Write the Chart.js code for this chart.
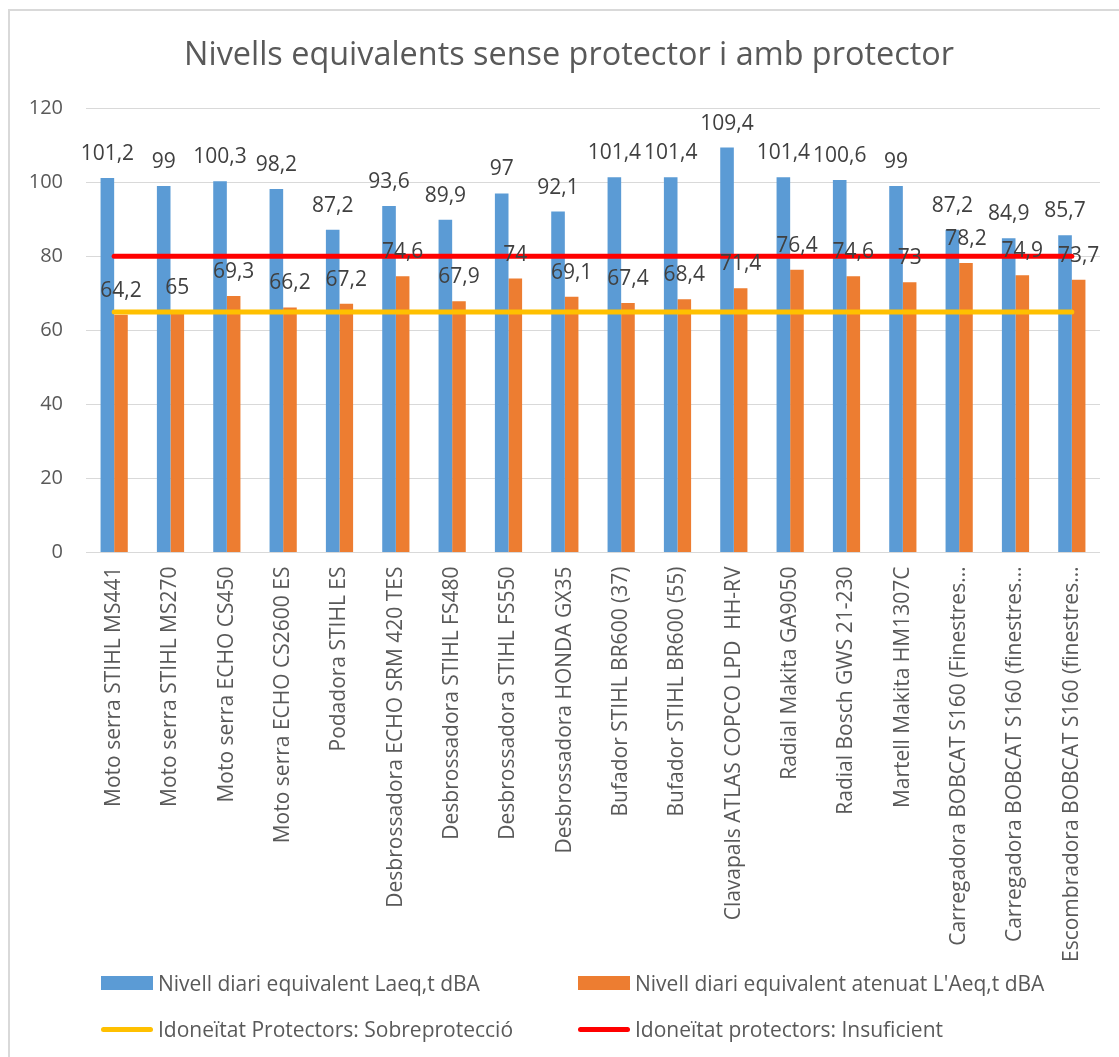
<!DOCTYPE html>
<html>
<head>
<meta charset="utf-8">
<script src="https://cdn.jsdelivr.net/npm/chart.js@4.4.1/dist/chart.umd.min.js"></script>
<style>
  html, body { margin: 0; padding: 0; background: #fff; overflow: hidden; }
  #wrap { position: relative; width: 1119px; height: 1057px; }
  #frame { position: absolute; left: 8px; top: 9px; width: 1200px; height: 1200px; border: 2px solid #d9d9d9; box-sizing: border-box; }
  canvas { position: absolute; left: 0; top: 0; }
  #legend { position: absolute; left: 0; top: 0; width: 1119px; height: 1057px; pointer-events: none;
            font-family: "Open Sans", sans-serif; font-size: 21px; color: #595959; }
  .item { position: absolute; display: flex; align-items: center; white-space: nowrap; height: 30px; }
  .sw { width: 52px; margin-right: 5px; }
</style>
</head>
<body>
<div id="wrap">
  <div id="frame"></div>
  <canvas id="c" width="1119" height="1057"></canvas>
  <div id="legend"></div>
</div>
<script>
const titleText = "Nivells equivalents sense protector i amb protector";
const categories = [
  "Moto serra STIHL MS441",
  "Moto serra STIHL MS270",
  "Moto serra ECHO CS450",
  "Moto serra ECHO CS2600 ES",
  "Podadora STIHL ES",
  "Desbrossadora ECHO SRM 420 TES",
  "Desbrossadora STIHL FS480",
  "Desbrossadora STIHL FS550",
  "Desbrossadora HONDA GX35",
  "Bufador STIHL BR600 (37)",
  "Bufador STIHL BR600 (55)",
  "Clavapals ATLAS COPCO LPD  HH-RV",
  "Radial Makita GA9050",
  "Radial Bosch GWS 21-230",
  "Martell Makita HM1307C",
  "Carregadora BOBCAT S160 (Finestres…",
  "Carregadora BOBCAT S160 (finestres…",
  "Escombradora BOBCAT S160 (finestres…"
];
const laeqLabel = "Nivell diari equivalent Laeq,t dBA";
const laeq = [101.2, 99, 100.3, 98.2, 87.2, 93.6, 89.9, 97, 92.1, 101.4, 101.4, 109.4, 101.4, 100.6, 99, 87.2, 84.9, 85.7];
const atenLabel = "Nivell diari equivalent atenuat L'Aeq,t dBA";
const aten = [64.2, 65, 69.3, 66.2, 67.2, 74.6, 67.9, 74, 69.1, 67.4, 68.4, 71.4, 76.4, 74.6, 73, 78.2, 74.9, 73.7];
const sobreLabel = "Idoneïtat Protectors: Sobreprotecció";
const sobre = [65, 65, 65, 65, 65, 65, 65, 65, 65, 65, 65, 65, 65, 65, 65, 65, 65, 65];
const insufLabel = "Idoneïtat protectors: Insuficient";
const insuf = [80, 80, 80, 80, 80, 80, 80, 80, 80, 80, 80, 80, 80, 80, 80, 80, 80, 80];
const yTicks = [0, 20, 40, 60, 80, 100, 120];

const FONT = "'Open Sans', sans-serif";
const TXT = "#595959";

const barLabels = {
  id: 'barLabels',
  afterDatasetsDraw(chart) {
    const ctx = chart.ctx;
    ctx.save();
    ctx.font = "21px " + FONT;
    ctx.fillStyle = "#404040";
    ctx.textAlign = "center";
    ctx.textBaseline = "alphabetic";
    chart.data.datasets.forEach((ds, i) => {
      if (ds.type !== 'bar') return;
      const meta = chart.getDatasetMeta(i);
      meta.data.forEach((el, j) => {
        const v = ds.data[j];
        ctx.fillText(String(v).replace('.', ','), el.x, el.y - 18);
      });
    });
    ctx.restore();
  }
};

const chartTitle = {
  id: 'chartTitle',
  afterDraw(chart) {
    const ctx = chart.ctx;
    ctx.save();
    ctx.font = "32.4px " + FONT;
    ctx.fillStyle = TXT;
    ctx.textAlign = "center";
    ctx.textBaseline = "alphabetic";
    ctx.fillText(titleText, 569, 65);
    ctx.restore();
  }
};

const chart = new Chart(document.getElementById('c'), {
  data: {
    labels: categories,
    datasets: [
      { type: 'bar', label: laeqLabel, data: laeq, backgroundColor: '#5B9BD5', order: 2,
        barPercentage: 1, categoryPercentage: 0.483 },
      { type: 'bar', label: atenLabel, data: aten, backgroundColor: '#ED7D31', order: 2,
        barPercentage: 1, categoryPercentage: 0.483 },
      { type: 'line', label: sobreLabel, data: sobre, borderColor: '#FFC000', backgroundColor: '#FFC000',
        borderWidth: 5, pointRadius: 0, borderCapStyle: 'round', order: 1 },
      { type: 'line', label: insufLabel, data: insuf, borderColor: '#FF0000', backgroundColor: '#FF0000',
        borderWidth: 5, pointRadius: 0, borderCapStyle: 'round', order: 0 }
    ]
  },
  options: {
    responsive: false,
    animation: false,
    devicePixelRatio: 1,
    layout: { padding: { left: 0, right: 19, top: 108.3, bottom: 0 } },
    plugins: {
      legend: { display: false },
      tooltip: { enabled: false },
      title: { display: false }
    },
    scales: {
      x: {
        grid: { display: false },
        border: { display: false },
        ticks: {
          color: TXT, font: { family: FONT, size: 21 },
          minRotation: 90, maxRotation: 90, autoSkip: false, padding: 6
        },
        afterFit(scale) { scale.height = 1057 - 552.5; }
      },
      y: {
        min: 0, max: 120,
        afterBuildTicks(scale) { scale.ticks = yTicks.map(v => ({ value: v })); },
        grid: { color: '#d9d9d9', lineWidth: 1, drawTicks: false },
        border: { display: false },
        ticks: { color: TXT, font: { family: FONT, size: 20 }, padding: 23 },
        afterFit(scale) { scale.width = 86; }
      }
    }
  },
  plugins: [barLabels, chartTitle]
});

// HTML legend built from the chart datasets
const legendPos = [
  { left: 101, top: 983 },
  { left: 578, top: 983 },
  { left: 101, top: 1029 },
  { left: 578, top: 1029 }
];
const lg = document.getElementById('legend');
chart.data.datasets.forEach((ds, i) => {
  const it = document.createElement('div');
  it.className = 'item';
  it.style.left = legendPos[i].left + 'px';
  it.style.top = (legendPos[i].top - 15) + 'px';
  const sw = document.createElement('div');
  sw.className = 'sw';
  if (ds.type === 'bar') {
    sw.style.height = '14px';
    sw.style.background = ds.backgroundColor;
  } else {
    sw.style.height = '5px';
    sw.style.borderRadius = '3px';
    sw.style.background = ds.borderColor;
  }
  const tx = document.createElement('span');
  tx.textContent = ds.label;
  it.appendChild(sw);
  it.appendChild(tx);
  lg.appendChild(it);
});
</script>
</body>
</html>
